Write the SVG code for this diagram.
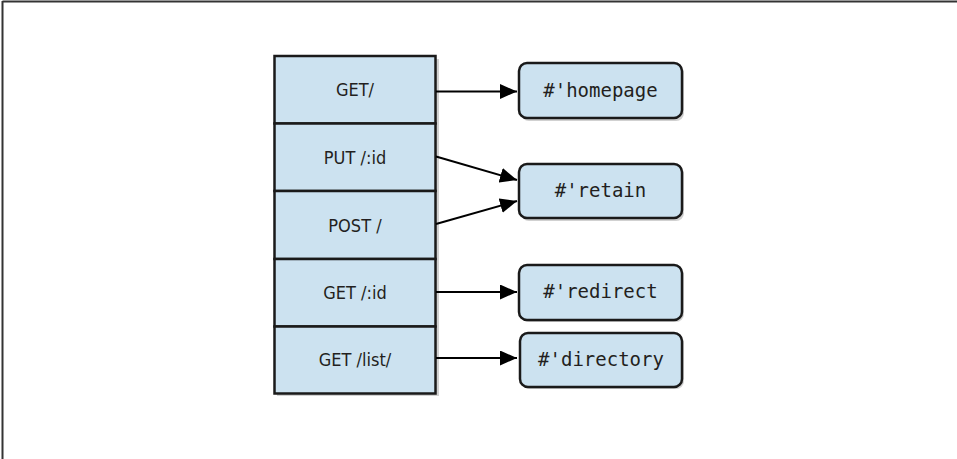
<svg xmlns="http://www.w3.org/2000/svg" width="957" height="459" viewBox="0 0 957 459">
<style>
.cell{fill:#cce2f0;stroke:#1a1a1a;stroke-width:2.5}
.fn{fill:#cce2f0;stroke:#1a1a1a;stroke-width:2.5}
.sh{fill:#9a9a9a;opacity:0.45}
.lt{font-family:'DejaVu Sans Condensed','DejaVu Sans',sans-serif;font-stretch:condensed;font-size:18px;fill:#231f20;text-anchor:middle}
.rt{font-family:'DejaVu Sans Mono','Liberation Mono',monospace;font-size:19px;fill:#231f20;text-anchor:middle}
.ln{stroke:#000;stroke-width:2;fill:none}
</style>
<defs>
<marker id="ah" markerUnits="userSpaceOnUse" markerWidth="18" markerHeight="15" viewBox="0 0 18 15" refX="17" refY="7.5" orient="auto">
<path d="M0,0 L17,7.5 L0,15 Z" fill="#000"/>
</marker>
</defs>
<rect width="957" height="459" fill="#fff"/>
<line x1="2.5" y1="1.5" x2="957" y2="1.5" stroke="#333" stroke-width="2"/>
<line x1="2.5" y1="1" x2="2.5" y2="459" stroke="#333" stroke-width="2"/>

<g id="routes">
<rect class="sh" x="277" y="59" width="162" height="337"/>
<g id="r1"><rect class="cell" x="274.5" y="56" width="161" height="67.5"/><text class="lt" x="355" y="96">GET/</text></g>
<g id="r2"><rect class="cell" x="274.5" y="123.5" width="161" height="67.5"/><text class="lt" x="355" y="164">PUT /:id</text></g>
<g id="r3"><rect class="cell" x="274.5" y="191" width="161" height="68"/><text class="lt" x="355" y="232">POST /</text></g>
<g id="r4"><rect class="cell" x="274.5" y="259" width="161" height="67.5"/><text class="lt" x="355" y="299">GET /:id</text></g>
<g id="r5"><rect class="cell" x="274.5" y="326.5" width="161" height="67"/><text class="lt" x="355" y="366">GET /list/</text></g>
</g>

<g id="homepage"><rect class="sh" x="521" y="65" width="163" height="56" rx="8"/><rect class="fn" x="519" y="63" width="163" height="55" rx="8"/><text class="rt" x="600.5" y="97">#'homepage</text></g>
<g id="retain"><rect class="sh" x="521" y="166" width="163" height="55" rx="8"/><rect class="fn" x="519" y="164" width="163" height="54" rx="8"/><text class="rt" x="600.5" y="197">#'retain</text></g>
<g id="redirect"><rect class="sh" x="521" y="267" width="163" height="55" rx="8"/><rect class="fn" x="519" y="265" width="163" height="55" rx="8"/><text class="rt" x="600.5" y="298">#'redirect</text></g>
<g id="directory"><rect class="sh" x="522" y="335" width="162" height="54" rx="8"/><rect class="fn" x="520" y="333" width="162" height="54" rx="8"/><text class="rt" x="601" y="366">#'directory</text></g>

<g id="connectors">
<line class="ln" x1="436" y1="91.5" x2="517" y2="91.5" marker-end="url(#ah)"/>
<line class="ln" x1="436" y1="156.5" x2="517" y2="180" marker-end="url(#ah)"/>
<line class="ln" x1="436" y1="224" x2="517" y2="201" marker-end="url(#ah)"/>
<line class="ln" x1="436" y1="292" x2="517" y2="292" marker-end="url(#ah)"/>
<line class="ln" x1="436" y1="358" x2="517" y2="358" marker-end="url(#ah)"/>
</g>
</svg>
